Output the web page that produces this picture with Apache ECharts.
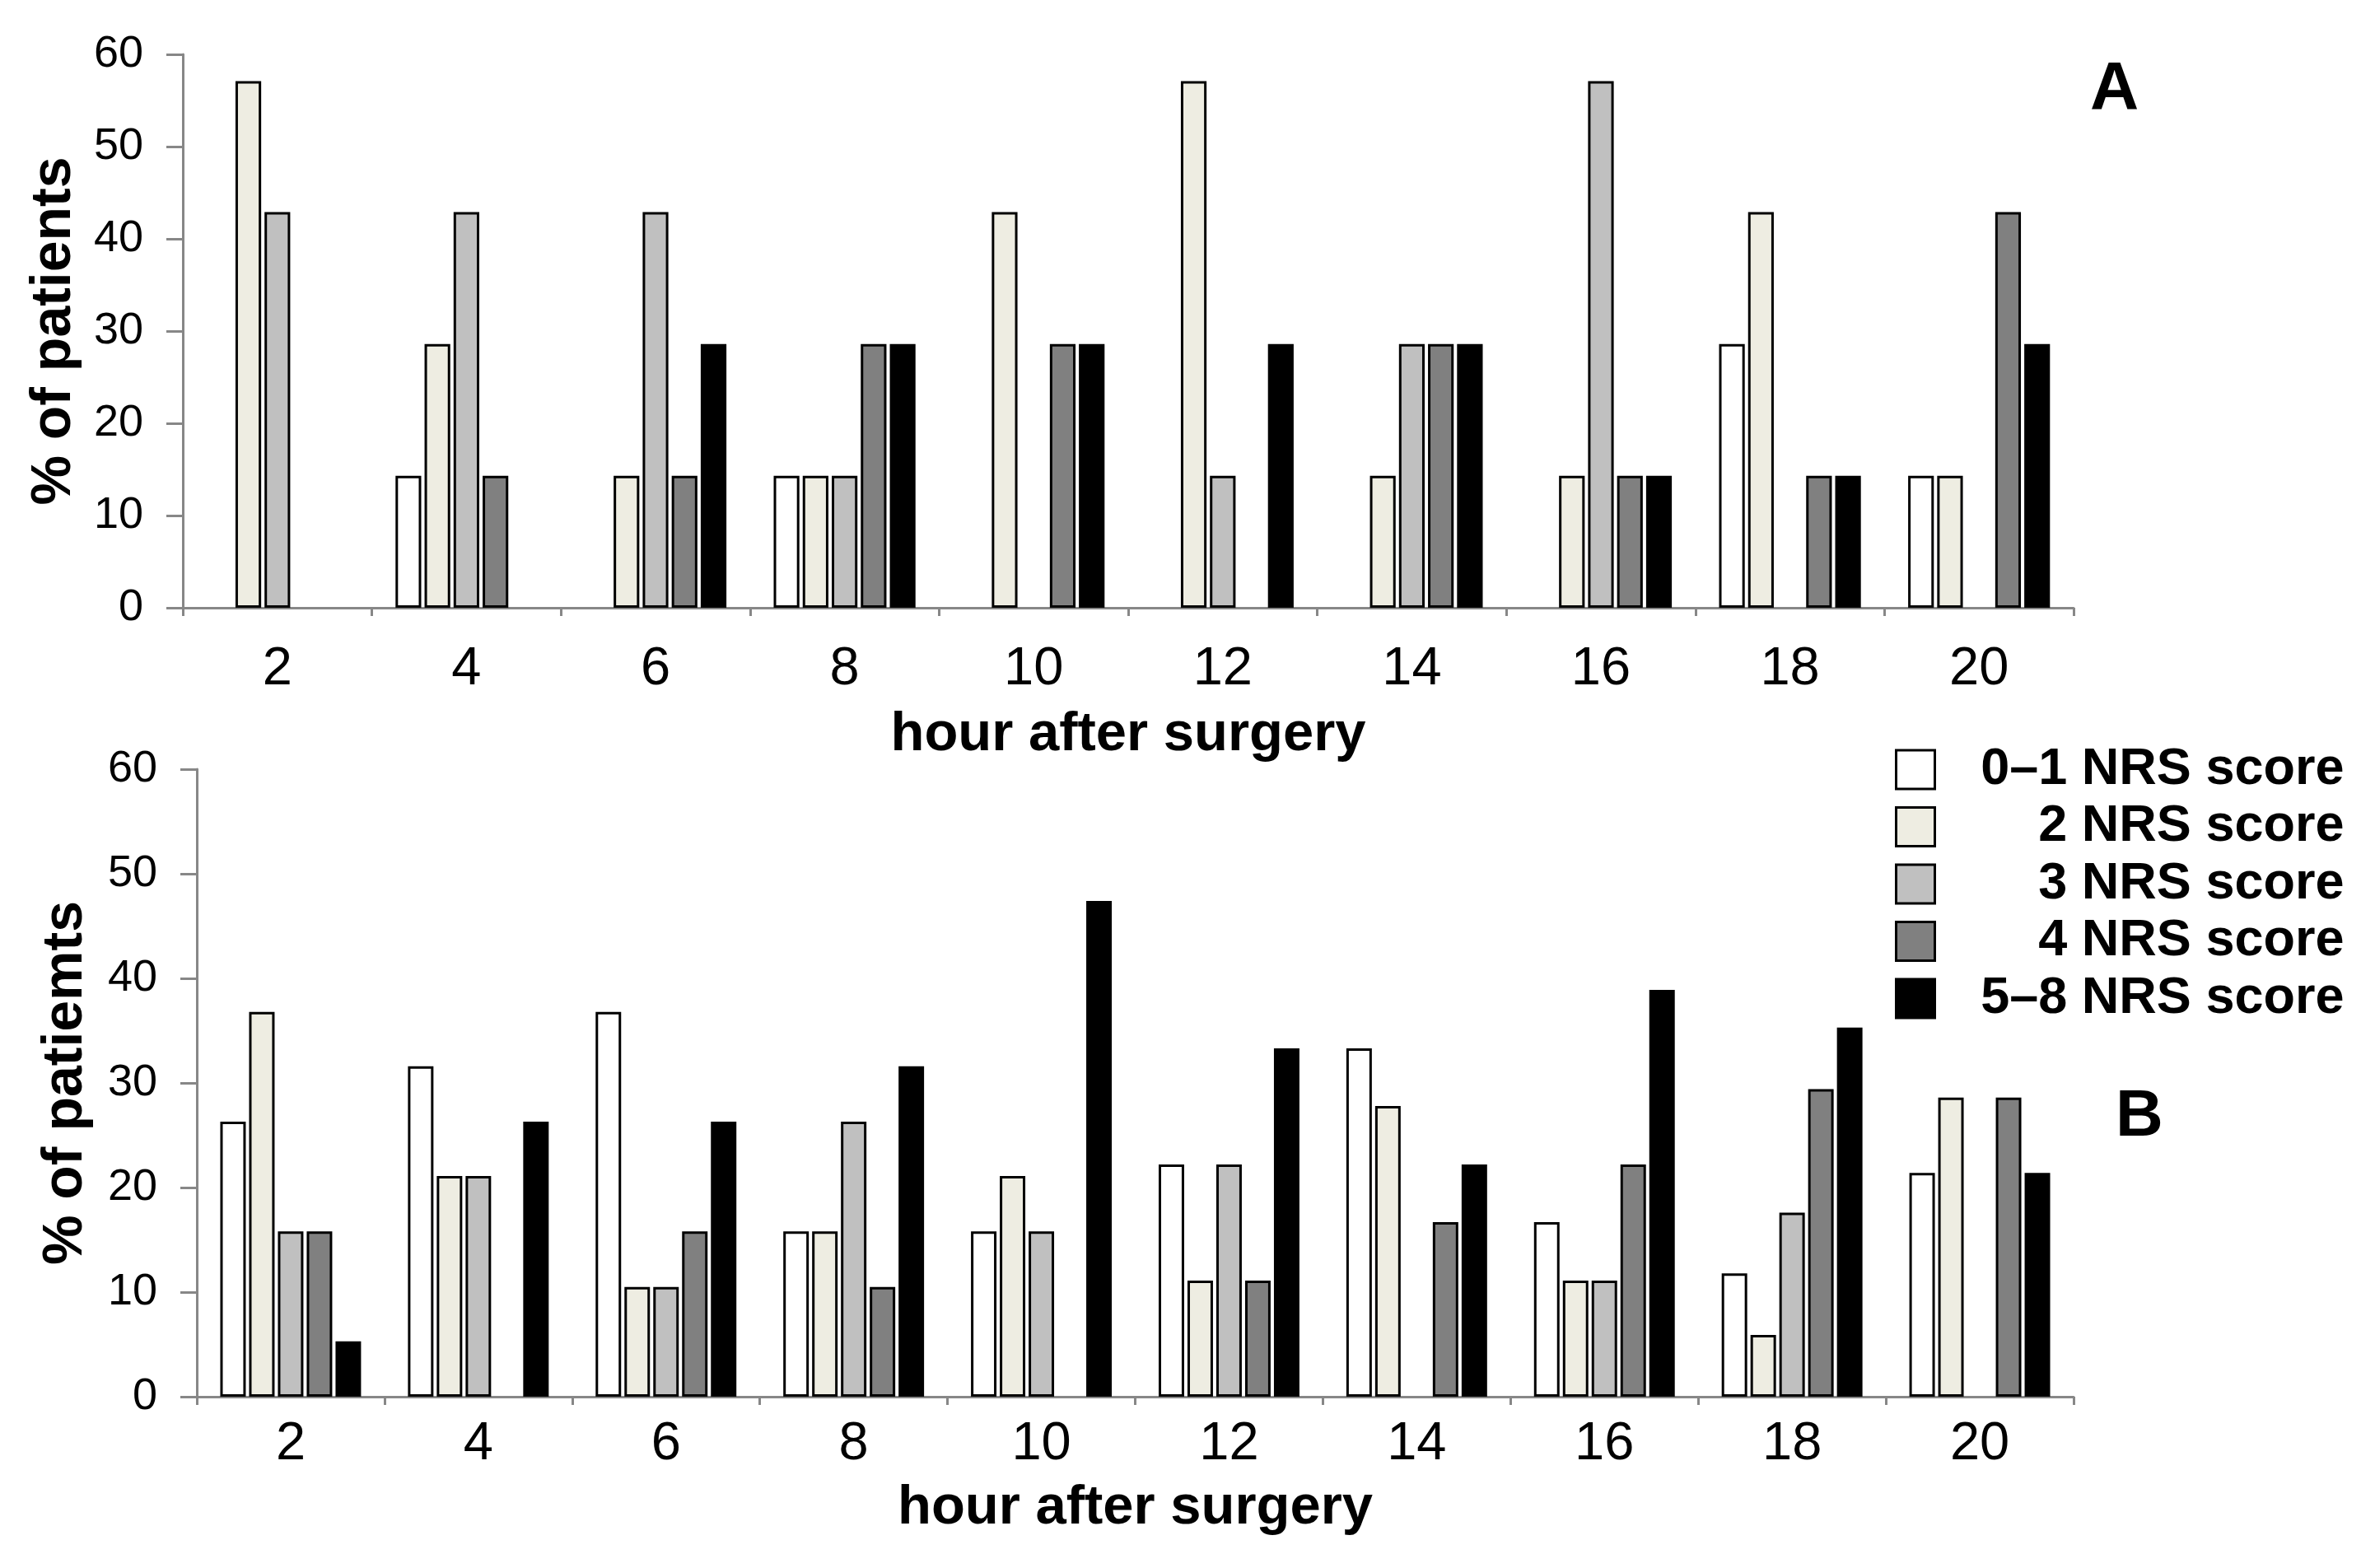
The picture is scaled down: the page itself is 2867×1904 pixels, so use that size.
<!DOCTYPE html>
<html>
<head>
<meta charset="utf-8">
<script src="https://cdn.jsdelivr.net/npm/echarts@6/dist/echarts.min.js"></script>
<style>
html,body{margin:0;padding:0;background:#fff;}
#chart{width:2867px;height:1904px;}
</style>
</head>
<body>
<div id="chart"></div>
<script>
// ---- data ----
const hours = ['2','4','6','8','10','12','14','16','18','20'];
const seriesNames = ['0\u20131 NRS score','2 NRS score','3 NRS score','4 NRS score','5\u20138 NRS score'];
const yTicks = [0,10,20,30,40,50,60];

// Panel A
const a01 = [0, 14.3, 0, 14.3, 0, 0, 0, 0, 28.6, 14.3];
const a2  = [57.1, 28.6, 14.3, 14.3, 42.9, 57.1, 14.3, 14.3, 42.9, 14.3];
const a3  = [42.9, 42.9, 42.9, 14.3, 0, 14.3, 28.6, 57.1, 0, 0];
const a4  = [0, 14.3, 14.3, 28.6, 28.6, 0, 28.6, 14.3, 14.3, 42.9];
const a58 = [0, 0, 28.6, 28.6, 28.6, 28.6, 28.6, 14.3, 14.3, 28.6];

// Panel B
const b01 = [26.3, 31.6, 36.8, 15.8, 15.8, 22.2, 33.3, 16.7, 11.8, 21.4];
const b2  = [36.8, 21.1, 10.5, 15.8, 21.1, 11.1, 27.8, 11.1, 5.9, 28.6];
const b3  = [15.8, 21.1, 10.5, 26.3, 15.8, 22.2, 0, 11.1, 17.6, 0];
const b4  = [15.8, 0, 15.8, 10.5, 0, 11.1, 16.7, 22.2, 29.4, 28.6];
const b58 = [5.3, 26.3, 26.3, 31.6, 47.4, 33.3, 22.2, 38.9, 35.3, 21.4];

const panelA = [a01, a2, a3, a4, a58];
const panelB = [b01, b2, b3, b4, b58];
const colors = ['#ffffff', '#eeede2', '#c0c0c0', '#808080', '#000000'];

// ---- chart ----
const FONT = 'Liberation Sans, Arial, sans-serif';
const chart = echarts.init(document.getElementById('chart'), null, {renderer: 'canvas'});
const axisGray = '#878787';

function xAxisFor(gridIndex, nameGap, labelMargin) {
  return {
    type: 'category', gridIndex, data: hours,
    boundaryGap: true,
    name: 'hour after surgery', nameLocation: 'middle', nameGap,
    nameTextStyle: {fontFamily: FONT, fontSize: 67, fontWeight: 'bold', color: '#000'},
    axisLine: {lineStyle: {color: axisGray, width: 3}},
    axisTick: {show: true, length: 10, lineStyle: {color: axisGray, width: 3}},
    axisLabel: {fontFamily: FONT, fontSize: 65, color: '#000', margin: labelMargin},
    splitLine: {show: false}
  };
}
function yAxisFor(gridIndex, name, nameGap) {
  return {
    type: 'value', gridIndex, min: yTicks[0], max: yTicks[yTicks.length - 1], interval: 10,
    name, nameLocation: 'middle', nameGap,
    nameTextStyle: {fontFamily: FONT, fontSize: 68, fontWeight: 'bold', color: '#000'},
    axisLine: {show: true, lineStyle: {color: axisGray, width: 3}},
    axisTick: {show: true, length: 20, lineStyle: {color: axisGray, width: 3}},
    axisLabel: {fontFamily: FONT, fontSize: 54, color: '#000', margin: 48},
    splitLine: {show: false}
  };
}

const series = [];
[panelA, panelB].forEach((panel, p) => {
  panel.forEach((arr, i) => {
    series.push({
      type: 'bar', name: seriesNames[i],
      xAxisIndex: p, yAxisIndex: p,
      data: arr.map(v => (v === 0 ? null : v)),
      barGap: '13%', barCategoryGap: '25%',
      itemStyle: {color: colors[i], borderColor: '#000', borderWidth: 3},
      emphasis: {disabled: true},
      animation: false
    });
  });
});

chart.setOption({
  backgroundColor: '#ffffff',
  animation: false,
  grid: [
    {left: 222, right: 2867 - 2518, top: 66, height: 738 - 66},
    {left: 239, right: 2867 - 2518, top: 934, height: 1696 - 934}
  ],
  xAxis: [xAxisFor(0, 121, 43), xAxisFor(1, 102, 26)],
  yAxis: [yAxisFor(0, '% of patients', 122), yAxisFor(1, '% of patiemts', 125)],
  legend: {
    data: seriesNames,
    orient: 'vertical',
    left: 2301, top: 903,
    padding: 0,
    itemWidth: 47, itemHeight: 47, itemGap: 6.5,
    icon: 'rect',
    selectedMode: false,
    itemStyle: {borderColor: '#000', borderWidth: 3},
    formatter: name => '{r|' + name + '}',
    textStyle: {
      rich: {
        r: {width: 492, align: 'right', fontFamily: FONT, fontSize: 63, fontWeight: 'bold', color: '#000', lineHeight: 47}
      }
    }
  },
  graphic: [
    {type: 'text', left: 2568 - 30, top: 114 - 46, style: {text: 'A', fontFamily: FONT, fontSize: 82, fontWeight: 'bold', fill: '#000'}},
    {type: 'text', left: 2598 - 29, top: 1357 - 40, style: {text: 'B', fontFamily: FONT, fontSize: 80, fontWeight: 'bold', fill: '#000'}}
  ],
  series
});
</script>
</body>
</html>
